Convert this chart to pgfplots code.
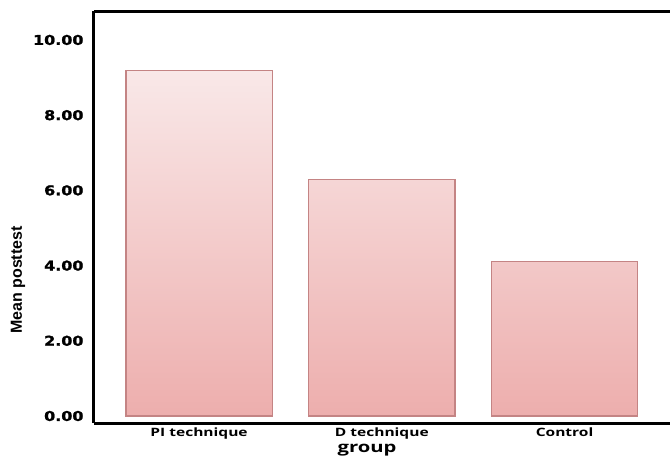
\documentclass[border=0pt]{standalone}
\usepackage{pgfplots}
\pgfplotsset{compat=1.18}
\usepackage{fontspec}
\usetikzlibrary{calc}
\setmainfont{Open Sans}
\newfontfamily\tickfont[FakeStretch=1.18,FakeBold=1.5]{DejaVu Sans}
\newfontfamily\catfont[FakeStretch=1.35]{Open Sans}
\newfontfamily\labfont{Liberation Sans}
\definecolor{bartop}{HTML}{F9E8E8}
\definecolor{barbot}{HTML}{EDAEAD}
\definecolor{baredge}{HTML}{C48484}
\begin{document}
\begin{tikzpicture}
\begin{axis}[
  scale only axis,
  width=576pt, height=412pt,
  xmin=-0.575, xmax=2.577,
  ymin=-0.186, ymax=10.77,
  axis x line*=box,
  axis y line*=left,
  axis line style={black, line width=3pt},
  every outer x axis line/.append style={line width=3pt},
  every outer y axis line/.append style={line width=3pt},
  major tick length=0pt,
  xtick={0,1,2},
  xticklabels={PI technique, D technique, Control},
  xticklabel style={font=\catfont\bfseries\fontsize{11.5}{12}\selectfont, yshift=-1pt},
  ytick={0,2,4,6,8,10},
  /pgf/number format/assume math mode=true,
  yticklabel={\tickfont\bfseries\fontsize{13.5}{14}\selectfont\pgfmathprintnumber[fixed,fixed zerofill,precision=2]{\tick}},
  yticklabel style={xshift=-7pt},
  ylabel={Mean posttest},
  ylabel style={font=\labfont\bfseries\fontsize{16}{17}\selectfont, at={(axis description cs:-0.132,0.347)}, anchor=center},
  xlabel={group},
  xlabel style={font=\catfont\bfseries\fontsize{15}{16}\selectfont, at={(axis description cs:0.474,0)}, anchor=north, yshift=-18pt},
  clip=false,
]
\addplot[ybar, bar width=0.8, draw=baredge, line width=1.2pt, top color=bartop, bottom color=barbot]
  coordinates {(0,9.18) (1,6.29) (2,4.11)};
\coordinate (sw) at (rel axis cs:0,0);
\coordinate (ne) at (rel axis cs:1,1);
\end{axis}
\pgfresetboundingbox
\path ($(sw)+(-94pt,-36pt)$) rectangle ($(ne)+(0,11pt)$);
\end{tikzpicture}
\end{document}
